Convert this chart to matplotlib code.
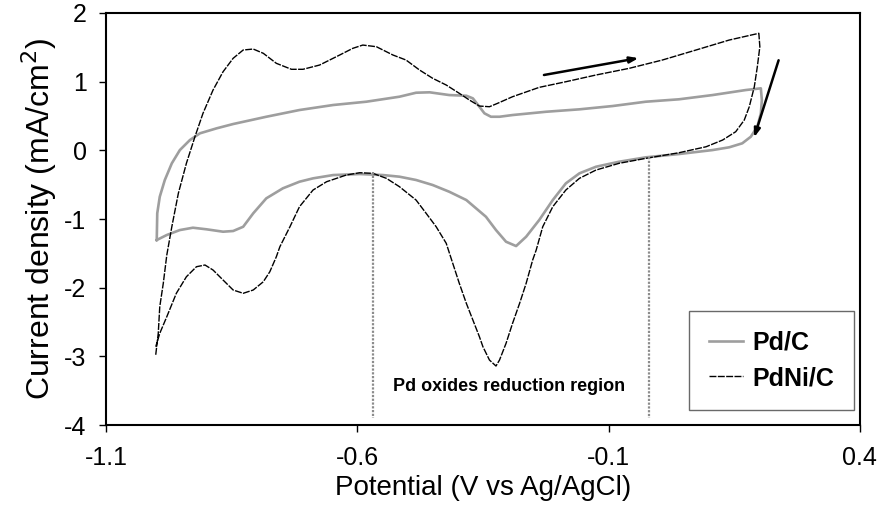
import matplotlib
matplotlib.use('Agg')
import matplotlib.pyplot as plt

plt.rcParams['font.family'] = ['Liberation Sans', 'DejaVu Sans']
plt.rcParams['axes.unicode_minus'] = False

# Pd/C cyclic voltammogram (potential V, current density mA/cm2)
pdc_x = [-0.999, -0.998, -0.993, -0.983, -0.969, -0.953, -0.933, -0.913, -0.880, -0.847,
         -0.781, -0.715, -0.648, -0.582, -0.516, -0.483, -0.456, -0.417, -0.383, -0.370,
         -0.357, -0.347, -0.334, -0.317, -0.291, -0.224, -0.158, -0.092, -0.026, 0.040,
         0.107, 0.173, 0.203,
         0.205, 0.203, 0.196, 0.183, 0.166, 0.140, 0.107, 0.040, -0.026, -0.079,
         -0.125, -0.158, -0.185, -0.211, -0.238, -0.264, -0.284, -0.304, -0.324, -0.344,
         -0.383, -0.417, -0.450, -0.483, -0.516, -0.549, -0.595, -0.648, -0.688, -0.715,
         -0.748, -0.781, -0.807, -0.827, -0.847, -0.867, -0.900, -0.927, -0.953, -0.979,
         -0.999]
pdc_y = [-1.306, -0.917, -0.676, -0.433, -0.189, 0.004, 0.150, 0.248, 0.320, 0.383,
         0.489, 0.587, 0.660, 0.708, 0.781, 0.839, 0.845, 0.805, 0.795, 0.757,
         0.635, 0.539, 0.489, 0.489, 0.514, 0.562, 0.597, 0.645, 0.708, 0.743,
         0.805, 0.878, 0.903,
         0.733, 0.539, 0.344, 0.198, 0.102, 0.044, 0.004, -0.054, -0.102, -0.166,
         -0.239, -0.335, -0.481, -0.724, -1.015, -1.258, -1.394, -1.331, -1.161, -0.967,
         -0.724, -0.603, -0.505, -0.432, -0.384, -0.360, -0.345, -0.360, -0.408, -0.457,
         -0.553, -0.699, -0.917, -1.113, -1.175, -1.185, -1.150, -1.127, -1.161, -1.233,
         -1.306]

# PdNi/C cyclic voltammogram
pdni_x = [-1.001, -0.996, -0.993, -0.986, -0.979, -0.969, -0.956, -0.940, -0.923, -0.907,
          -0.887, -0.867, -0.847, -0.827, -0.807, -0.787, -0.761, -0.731, -0.708, -0.675,
          -0.635, -0.609, -0.589, -0.562, -0.529, -0.503, -0.476, -0.450, -0.423, -0.397,
          -0.377, -0.357, -0.337, -0.321, -0.291, -0.238, -0.185, -0.125, -0.059, 0.007,
          0.074, 0.140, 0.199,
          0.201, 0.196, 0.190, 0.180, 0.170, 0.153, 0.127, 0.094, 0.040, -0.026,
          -0.079, -0.125, -0.158, -0.185, -0.211, -0.231, -0.244, -0.251, -0.264, -0.277,
          -0.291, -0.304, -0.317, -0.324, -0.337, -0.350, -0.357, -0.370, -0.383, -0.397,
          -0.410, -0.423, -0.443, -0.463, -0.483, -0.516, -0.542, -0.569, -0.595, -0.622,
          -0.661, -0.688, -0.715, -0.734, -0.754, -0.761, -0.774, -0.787, -0.807, -0.827,
          -0.847, -0.867, -0.887, -0.903, -0.920, -0.940, -0.960, -0.979, -0.993, -1.001]
pdni_y = [-2.977, -2.665, -2.278, -1.937, -1.525, -1.113, -0.626, -0.189, 0.198, 0.539,
          0.878, 1.145, 1.340, 1.461, 1.475, 1.413, 1.267, 1.180, 1.180, 1.242,
          1.388, 1.485, 1.533, 1.509, 1.388, 1.315, 1.169, 1.049, 0.951, 0.830,
          0.733, 0.645, 0.635, 0.684, 0.781, 0.917, 0.999, 1.097, 1.194, 1.315,
          1.461, 1.606, 1.704,
          1.509, 1.217, 0.926, 0.635, 0.441, 0.271, 0.150, 0.052, -0.035, -0.117,
          -0.189, -0.287, -0.408, -0.578, -0.821, -1.113, -1.452, -1.597, -1.937, -2.228,
          -2.519, -2.811, -3.054, -3.141, -3.054, -2.860, -2.714, -2.471, -2.228, -1.937,
          -1.646, -1.354, -1.113, -0.917, -0.724, -0.530, -0.408, -0.335, -0.326, -0.360,
          -0.457, -0.578, -0.821, -1.113, -1.404, -1.549, -1.768, -1.914, -2.034, -2.082,
          -2.034, -1.889, -1.743, -1.670, -1.695, -1.841, -2.082, -2.423, -2.665, -2.860]

x_ticks = [-1.1, -0.6, -0.1, 0.4]
y_ticks = [-4, -3, -2, -1, 0, 1, 2]
region_x = [-0.569, -0.019]
region_top = [-0.32, -0.09]

fig = plt.figure(figsize=(8.81, 5.26), dpi=100)
ax = fig.add_axes([0.1203, 0.192, 0.8557, 0.7833])

ax.plot(pdc_x, pdc_y, color='#9e9e9e', lw=1.9, label='Pd/C', solid_joinstyle='round')
ax.plot(pdni_x, pdni_y, color='black', lw=1.0, linestyle=(0, (5, 1)), label='PdNi/C')

for xv, yt in zip(region_x, region_top):
    ax.plot([xv, xv], [yt, -3.9], color='#8c8c8c', lw=1.6, linestyle=(0, (1, 0.7)))

ax.text(-0.528, -3.44, 'Pd oxides reduction region', fontsize=13, fontweight='bold',
        ha='left', va='center')

ax.annotate('', xy=(-0.035, 1.35), xytext=(-0.234, 1.09),
            arrowprops=dict(arrowstyle='-|>,head_length=0.5,head_width=0.18', color='black', lw=1.8))
ax.annotate('', xy=(0.188, 0.15), xytext=(0.240, 1.35),
            arrowprops=dict(arrowstyle='-|>,head_length=0.5,head_width=0.18', color='black', lw=1.8))

ax.set_xlim(-1.1, 0.4)
ax.set_ylim(-4, 2)
ax.set_xticks(x_ticks)
ax.set_xticklabels([str(v) for v in x_ticks])
ax.set_yticks(y_ticks)
ax.tick_params(axis='both', direction='out', length=5, width=1, labelsize=18)
ax.tick_params(axis='x', pad=10)
ax.tick_params(axis='y', pad=9)
for sp in ax.spines.values():
    sp.set_linewidth(1.5)
    sp.set_color('black')

ax.set_xlabel('Potential (V vs Ag/AgCl)', fontsize=20, labelpad=4)
ax.set_ylabel('Current density (mA/cm$^2$)', fontsize=23, labelpad=4)

leg = ax.legend(loc='lower right', prop={'weight': 'bold', 'size': 18}, frameon=True,
                fancybox=False, edgecolor='#444444', handlelength=1.36, handletextpad=0.36,
                borderpad=0.8, labelspacing=0.45, borderaxespad=0,
                bbox_to_anchor=(0.992, 0.036))
leg.get_frame().set_linewidth(1.0)

fig.savefig('out.png', dpi=100)
